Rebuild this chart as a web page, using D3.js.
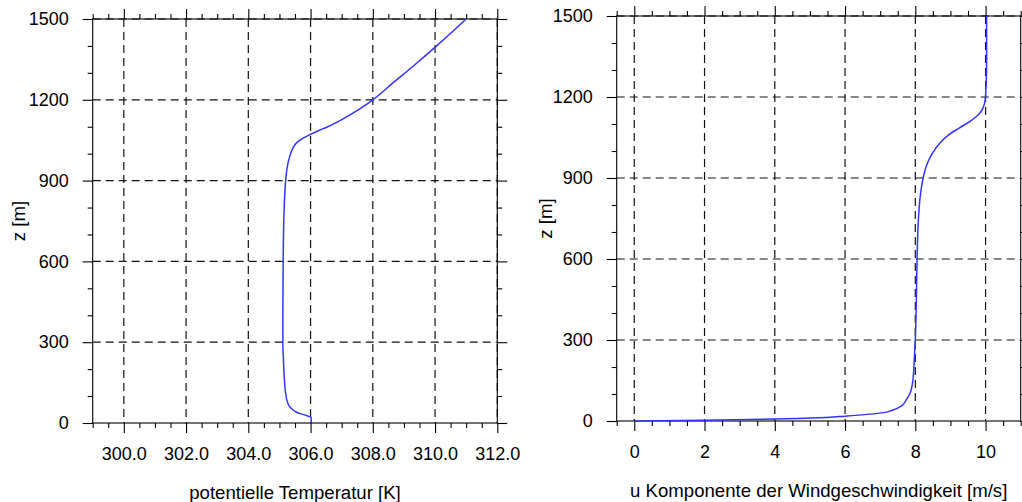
<!DOCTYPE html>
<html>
<head>
<meta charset="utf-8">
<script src="https://cdn.jsdelivr.net/npm/d3@7"></script>
<style>
  body { margin: 0; background: #fff; }
  svg { display: block; font-family: "Liberation Sans", Arial, Helvetica, sans-serif; }
</style>
</head>
<body>
<div id="chart"></div>
<script>
// profile data
let z_theta = [0, 20, 30, 40, 50, 60, 80, 110, 160, 230, 300, 420, 600, 790, 900, 950, 990, 1020, 1040, 1055, 1070, 1085, 1100, 1120, 1145, 1170, 1200, 1260, 1330, 1400, 1500];
let theta   = [306.02, 306.02, 305.8, 305.55, 305.42, 305.33, 305.25, 305.2, 305.16, 305.13, 305.11, 305.11, 305.12, 305.15, 305.2, 305.25, 305.33, 305.43, 305.55, 305.72, 305.97, 306.25, 306.55, 306.9, 307.28, 307.63, 308.0, 308.62, 309.35, 310.05, 311.0];

let z_u = [0, 3, 7, 12, 18, 31, 40, 55, 80, 103, 150, 226, 300, 450, 600, 750, 820, 870, 910, 950, 990, 1030, 1060, 1085, 1110, 1135, 1160, 1190, 1260, 1340, 1500];
let u   = [0, 2.0, 4.0, 5.3, 6.0, 7.1, 7.35, 7.6, 7.75, 7.85, 7.93, 7.97, 8.0, 8.03, 8.05, 8.09, 8.13, 8.18, 8.24, 8.33, 8.48, 8.7, 8.95, 9.25, 9.56, 9.8, 9.93, 9.99, 10.02, 10.03, 10.03];

// tick labels
let zTicks = [0, 300, 600, 900, 1200, 1500];
let thetaTicks = [300, 302, 304, 306, 308, 310, 312];
let uTicks = [0, 2, 4, 6, 8, 10];

let svg = d3.select("#chart")
    .append("svg")
    .attr("width", 1022)
    .attr("height", 502);

drawPanel({
    xs: theta, zs: z_theta,
    xDomain: [299, 312], xRange: [92.7, 497.3],
    yRange: [423, 19],
    xTicks: thetaTicks, xFormat: d3.format(".1f"),
    xTitle: "potentielle Temperatur [K]", xTitleY: 499,
    yTitleX: 25
});

drawPanel({
    xs: u, zs: z_u,
    xDomain: [-0.5, 11], xRange: [616.7, 1020.7],
    yRange: [421, 16],
    xTicks: uTicks, xFormat: d3.format("d"),
    xTitle: "u Komponente der Windgeschwindigkeit [m/s]", xTitleY: 497,
    yTitleX: 552
});

function drawPanel(p) {
    let x = d3.scaleLinear().domain(p.xDomain).range(p.xRange);
    let y = d3.scaleLinear().domain([0, 1500]).range(p.yRange);

    let left = p.xRange[0], right = p.xRange[1];
    let top = p.yRange[1], bottom = p.yRange[0];

    let g = svg.append("g");

    // minor tick positions (every 0.5 in x, every 100 m in z)
    let xMinor = d3.range(Math.ceil(p.xDomain[0] * 2) / 2, p.xDomain[1] + 0.01, 0.5)
        .filter(v => p.xTicks.indexOf(v) < 0);
    let yMinor = d3.range(0, 1501, 100).filter(v => v % 300 != 0);

    // dashed grid
    g.append("g").selectAll("line.vg")
        .data(p.xTicks.filter(v => v > p.xDomain[0] && v <= p.xDomain[1]))
        .enter().append("line")
        .attr("x1", d => x(d)).attr("x2", d => x(d))
        .attr("y1", top).attr("y2", bottom)
        .attr("stroke", "#111").attr("stroke-width", 1.2)
        .attr("stroke-dasharray", "8,5");

    g.append("g").selectAll("line.hg")
        .data(zTicks.filter(v => v > 0))
        .enter().append("line")
        .attr("x1", left).attr("x2", right)
        .attr("y1", d => y(d)).attr("y2", d => y(d))
        .attr("stroke", "#111").attr("stroke-width", 1.2)
        .attr("stroke-dasharray", "8,5");

    // axes, ticks pointing outward on all four sides
    g.append("g").attr("transform", `translate(0, ${bottom})`)
        .call(d3.axisBottom(x).tickValues(p.xTicks).tickSize(10).tickPadding(14).tickFormat(p.xFormat));
    g.append("g").attr("transform", `translate(0, ${bottom})`)
        .call(d3.axisBottom(x).tickValues(xMinor).tickSize(5).tickFormat(""));
    g.append("g").attr("transform", `translate(0, ${top})`)
        .call(d3.axisTop(x).tickValues(p.xTicks).tickSize(10).tickFormat(""));
    g.append("g").attr("transform", `translate(0, ${top})`)
        .call(d3.axisTop(x).tickValues(xMinor).tickSize(5).tickFormat(""));

    g.append("g").attr("transform", `translate(${left}, 0)`)
        .call(d3.axisLeft(y).tickValues(zTicks).tickSize(10).tickPadding(14).tickFormat(d3.format("d")));
    g.append("g").attr("transform", `translate(${left}, 0)`)
        .call(d3.axisLeft(y).tickValues(yMinor).tickSize(5).tickFormat(""));
    g.append("g").attr("transform", `translate(${right}, 0)`)
        .call(d3.axisRight(y).tickValues(zTicks).tickSize(10).tickFormat(""));
    g.append("g").attr("transform", `translate(${right}, 0)`)
        .call(d3.axisRight(y).tickValues(yMinor).tickSize(5).tickFormat(""));

    g.selectAll(".domain").remove();
    g.selectAll(".tick line").attr("stroke", "#000").attr("stroke-width", 1.1);
    g.selectAll(".tick text")
        .attr("fill", "#000")
        .style("font-size", "18px")
        .style("font-family", "'Liberation Sans', Arial, sans-serif");

    // frame
    g.append("rect")
        .attr("x", left).attr("y", top)
        .attr("width", right - left).attr("height", bottom - top)
        .attr("fill", "none").attr("stroke", "#000").attr("stroke-width", 1.1);

    // profile line
    let line = d3.line()
        .x((d, i) => x(p.xs[i]))
        .y(d => y(d))
        .curve(d3.curveMonotoneY);

    g.append("path")
        .datum(p.zs)
        .attr("d", line)
        .attr("fill", "none")
        .attr("stroke", "#3333ff")
        .attr("stroke-width", 1.5);

    // axis titles
    g.append("text")
        .attr("x", (left + right) / 2)
        .attr("y", p.xTitleY)
        .style("text-anchor", "middle")
        .style("font-size", "18.6px")
        .text(p.xTitle);

    g.append("text")
        .attr("transform", `translate(${p.yTitleX}, ${(top + bottom) / 2}) rotate(-90)`)
        .style("text-anchor", "middle")
        .style("font-size", "18.6px")
        .text("z [m]");
}
</script>
</body>
</html>
